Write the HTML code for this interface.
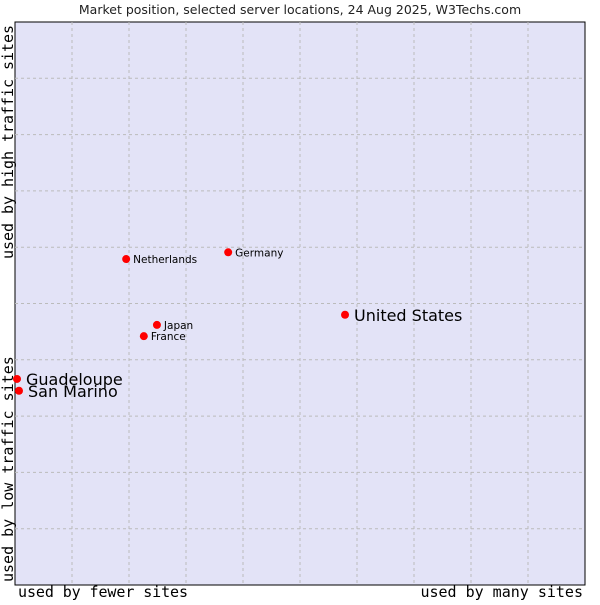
<!DOCTYPE html>
<html><head><meta charset="utf-8"><style>
body{margin:0;background:#fff;width:600px;height:600px;overflow:hidden}
svg text{font-family:"DejaVu Sans","Liberation Sans",sans-serif}
.mono{font-family:"DejaVu Sans Mono","Liberation Mono",monospace}
</style></head><body>
<svg id="c" width="600" height="600">
<text x="300" y="14" text-anchor="middle" font-size="12.5" fill="#222">Market position, selected server locations, 24 Aug 2025, W3Techs.com</text>
<rect x="15" y="22" width="570" height="563" fill="#e3e3f7" stroke="#000" stroke-width="1"/>
<g id="grid"></g>
<g id="pts"></g>
<text class="mono" x="18" y="597" font-size="15" textLength="170">used by fewer sites</text>
<text class="mono" x="583" y="597" font-size="15" text-anchor="end">used by many sites</text>
<text class="mono" transform="translate(13,582) rotate(-90)" font-size="15">used by low traffic sites</text>
<text class="mono" transform="translate(13,259) rotate(-90)" font-size="15" textLength="234">used by high traffic sites</text>
</svg>
<script>
const names=["United States","Germany","Netherlands","Japan","France","Guadeloupe","San Marino"];
const xVals=[57.9,37.4,19.5,24.9,22.6,0.35,0.7];
const yVals=[48.0,59.1,57.9,46.2,44.2,36.6,34.5];
const big=[true,false,false,false,false,true,true];
const X=v=>15+570*v/100, Y=v=>585-563*v/100;
const ns="http://www.w3.org/2000/svg";
const g=document.getElementById('grid');
for(let i=1;i<10;i++){
 let l=document.createElementNS(ns,'line');
 l.setAttribute('x1',X(i*10));l.setAttribute('x2',X(i*10));l.setAttribute('y1',22);l.setAttribute('y2',585);
 l.setAttribute('stroke','#bbb');l.setAttribute('stroke-dasharray','3,3');
 
 
 g.appendChild(l);
 let h=document.createElementNS(ns,'line');
 h.setAttribute('y1',Y(i*10));h.setAttribute('y2',Y(i*10));h.setAttribute('x1',15);h.setAttribute('x2',585);
 h.setAttribute('stroke','#bbb');h.setAttribute('stroke-dasharray','3,3');
 
 
 g.appendChild(h);
}
const p=document.getElementById('pts');
names.forEach((n,i)=>{
 const cx=X(xVals[i]),cy=Y(yVals[i]);
 let c=document.createElementNS(ns,'circle');
 c.setAttribute('cx',cx);c.setAttribute('cy',cy);c.setAttribute('r',4);c.setAttribute('fill','#f00');
 
 
 p.appendChild(c);
 let t=document.createElementNS(ns,'text');
 t.setAttribute('x',cx+(big[i]?9:7));t.setAttribute('y',cy+(big[i]?6:4));
 t.setAttribute('font-size',big[i]?16:10.5);t.textContent=n;
 
 
 p.appendChild(t);
});
</script>
</body></html>
